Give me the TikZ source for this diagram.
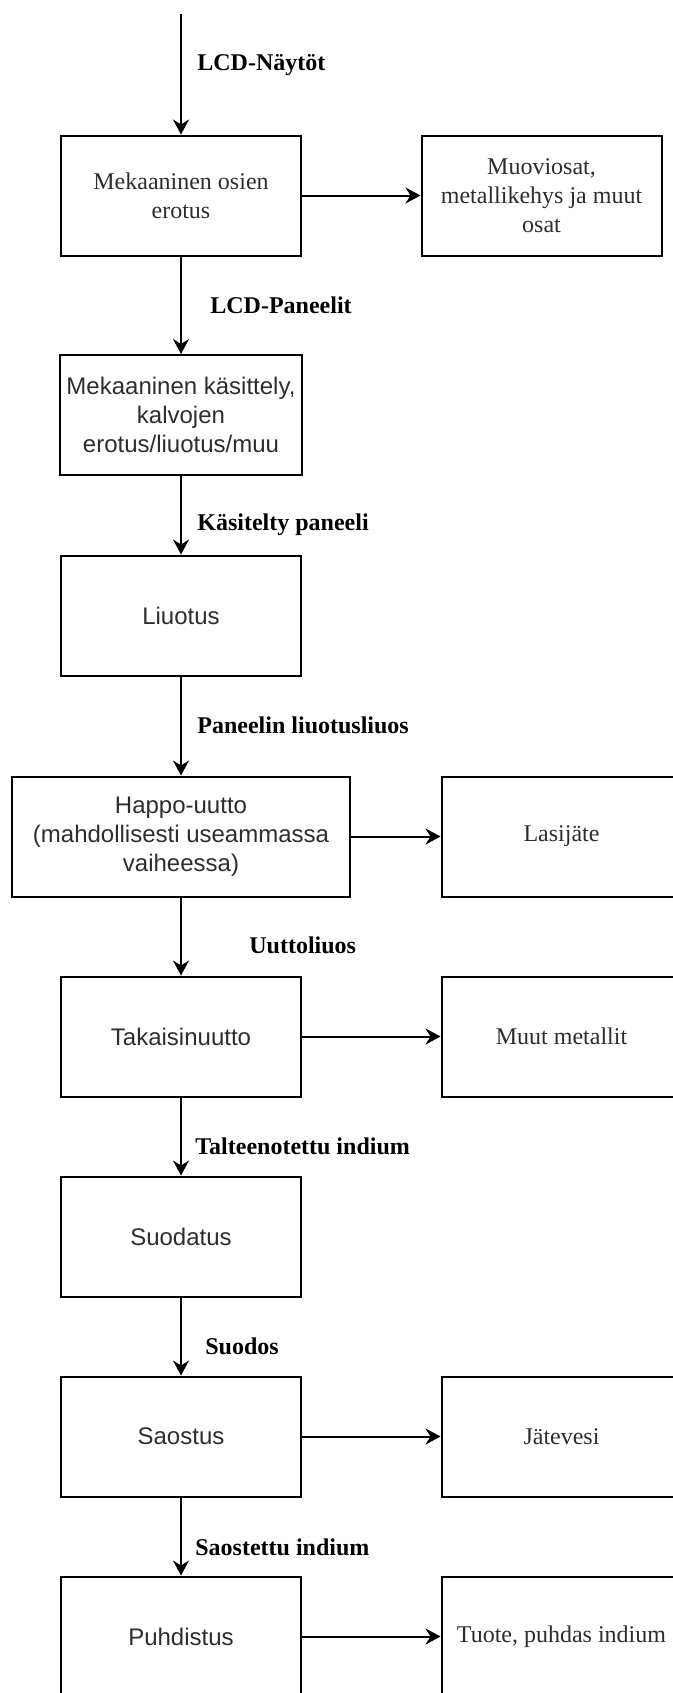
\documentclass[tikz,border=0pt]{standalone}
\usepackage{fontspec}
\setmainfont{Liberation Serif}
\newfontfamily\boxsans{Liberation Sans}
\usepackage{tikz}
\usetikzlibrary{arrows.meta,positioning}
\definecolor{boxText}{RGB}{45,45,45}

\tikzset{
  procbox/.style={draw, rectangle, line width=1pt, minimum width=120pt, minimum height=60pt,
    align=center, text=boxText, font=\boxsans\fontsize{12}{14.4}\selectfont},
  serifbox/.style={procbox, font=\fontsize{12}{14.4}\selectfont},
  flowlabel/.style={anchor=west, inner sep=0pt, font=\bfseries\fontsize{12}{14.4}\selectfont},
  flow/.style={-{Stealth[length=7.5pt, width=8pt, inset=2.5pt]}, line width=1pt}
}

\begin{document}
\begin{tikzpicture}[x=0.5pt, y=-0.5pt]
        \useasboundingbox (0,0) rectangle (673,1693);
        \clip (0,0) rectangle (673,1693);

        % Main process chain
        \coordinate (feed_in) at (181,14);
        \node[serifbox] (sep_mech) at (181,195.5) {Mekaaninen osien\\erotus};
        \node[procbox] (mech_treat) at (181,415) {Mekaaninen käsittely,\\kalvojen\\erotus/liuotus/muu};
        \node[procbox] (dissolve) at (181,615.5) {Liuotus};
        \node[procbox, minimum width=169pt] (acid_leach) at (181,836.5) {Happo-uutto\\(mahdollisesti useammassa\\vaiheessa)};
        \node[procbox] (strip) at (181,1036.5) {Takaisinuutto};
        \node[procbox] (filter) at (181,1236.5) {Suodatus};
        \node[procbox] (precip) at (181,1436.5) {Saostus};
        \node[procbox] (purify) at (181,1636.5) {Puhdistus};

        % Side streams
        \node[serifbox] (parts_out) at (541.5,195.5) {Muoviosat,\\metallikehys ja muut\\osat};
        \node[serifbox] (glass_waste) at (561.5,836.5) {Lasijäte};
        \node[serifbox] (metals_out) at (561.5,1036.5) {Muut metallit};
        \node[serifbox] (waste_water) at (561.5,1436.5) {Jätevesi};
        \node[serifbox] (product) at (561.5,1636.5) {Tuote, puhdas indium};

        \draw[flow] (feed_in) -- (sep_mech);
        \draw[flow] (sep_mech) -- (mech_treat);
        \draw[flow] (mech_treat) -- (dissolve);
        \draw[flow] (dissolve) -- (acid_leach);
        \draw[flow] (acid_leach) -- (strip);
        \draw[flow] (strip) -- (filter);
        \draw[flow] (filter) -- (precip);
        \draw[flow] (precip) -- (purify);

        \draw[flow] (sep_mech) -- (parts_out);
        \draw[flow] (acid_leach) -- (glass_waste);
        \draw[flow] (strip) -- (metals_out);
        \draw[flow] (precip) -- (waste_water);
        \draw[flow] (purify) -- (product);

        % Stream labels
        \node[flowlabel] (lbl_displays) at (197,65) {LCD-Näytöt};
        \node[flowlabel] (lbl_panels) at (210,305) {LCD-Paneelit};
        \node[flowlabel] (lbl_treated) at (197,525) {Käsitelty paneeli};
        \node[flowlabel] (lbl_solution) at (197,725) {Paneelin liuotusliuos};
        \node[flowlabel] (lbl_extract) at (249,945) {Uuttoliuos};
        \node[flowlabel] (lbl_recovered) at (195,1146) {Talteenotettu indium};
        \node[flowlabel] (lbl_filtrate) at (205,1346) {Suodos};
        \node[flowlabel] (lbl_precip) at (195,1547) {Saostettu indium};

    \end{tikzpicture}
\end{document}
